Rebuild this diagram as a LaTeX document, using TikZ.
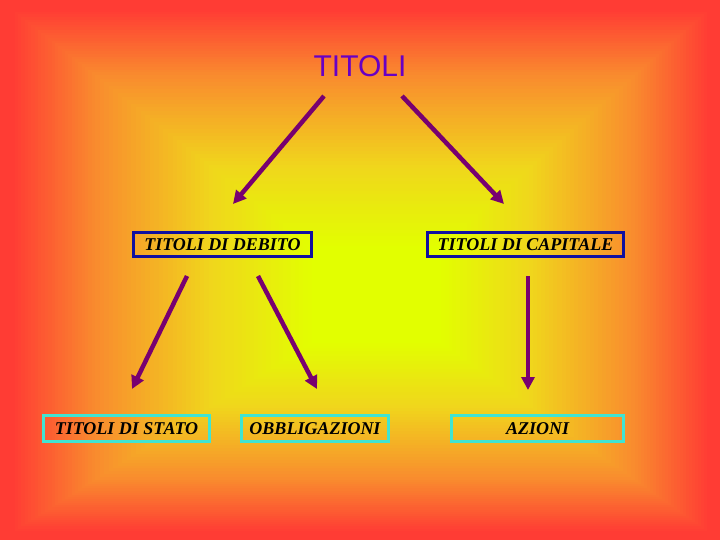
\documentclass[tikz,border=0pt]{standalone}
\usepackage{fontspec}
\setmainfont{Liberation Serif}
\newfontfamily\headfont{Liberation Sans}
\usetikzlibrary{arrows.meta,positioning}
\definecolor{bgred}{RGB}{255,60,52}
\definecolor{bgorange}{RGB}{249,140,46}
\definecolor{bgyellow}{RGB}{240,214,28}
\definecolor{bglime}{RGB}{226,255,0}
\definecolor{arrowpurple}{RGB}{120,0,112}
\definecolor{titleviolet}{RGB}{104,0,196}
\definecolor{edgeblue}{RGB}{16,16,160}
\definecolor{edgecyan}{RGB}{64,228,210}
\tikzset{typebox/.style={draw=edgeblue,line width=3pt,minimum height=24pt,inner sep=2pt,font=\fontsize{18}{21}\selectfont\bfseries\itshape},kindbox/.style={draw=edgecyan,line width=3pt,minimum height=26pt,inner sep=2pt,font=\fontsize{18}{21}\selectfont\bfseries\itshape},arrow/.style={-{Triangle[length=13pt,width=13pt]},line width=4.5pt,draw=arrowpurple}}

\begin{document}
\begin{tikzpicture}[x=1pt,y=-1pt]
\useasboundingbox (0,0) rectangle (720,540);
% background
\fill[bgred] (0,0) rectangle (720,540);
\foreach \ta/\tb/\ca/\cb in {0.03/0.25/bgred/bgorange,0.25/0.55/bgorange/bgyellow,0.55/0.82/bgyellow/bglime,0.82/1/bglime/bglime}
  \foreach \k in {0,...,24}{
    \pgfmathsetmacro\t{\ta+(\tb-\ta)*\k/25}
    \pgfmathtruncatemacro\p{4*\k}
    \fill[fill=\cb!\p!\ca] ({\t*380},{\t*300}) rectangle ({720-\t*340},{540-\t*240});
  }
% nodes
\node[text=titleviolet,font=\headfont\fontsize{30}{36}\selectfont] (titoli) at (360,66) {TITOLI};
\node[typebox,minimum width=178pt] (debito) at (222.5,244.5) {TITOLI DI DEBITO};
\node[typebox,minimum width=196pt,right=113pt of debito] (capitale) {TITOLI DI CAPITALE};
\node[kindbox,minimum width=166pt] (stato) at (126.5,428.5) {TITOLI DI STATO};
\node[kindbox,minimum width=147pt,right=29pt of stato] (obbl) {OBBLIGAZIONI};
\node[kindbox,minimum width=172pt,right=60pt of obbl] (azioni) {AZIONI};
% arrow ends
\coordinate (titoliL) at (324,96); \coordinate (debitoT) at (233,204);
\coordinate (titoliR) at (402,96); \coordinate (capitaleT) at (504,204);
\coordinate (debitoL) at (187,276); \coordinate (statoT) at (132,389);
\coordinate (debitoR) at (258,276); \coordinate (obblT) at (317,389);
\coordinate (capitaleB) at (528,276); \coordinate (azioniT) at (528,390);
\draw[arrow] (titoliL)--(debitoT); \draw[arrow] (titoliR)--(capitaleT);
\draw[arrow] (debitoL)--(statoT); \draw[arrow] (debitoR)--(obblT); \draw[arrow] (capitaleB)--(azioniT);
\end{tikzpicture}
\end{document}
